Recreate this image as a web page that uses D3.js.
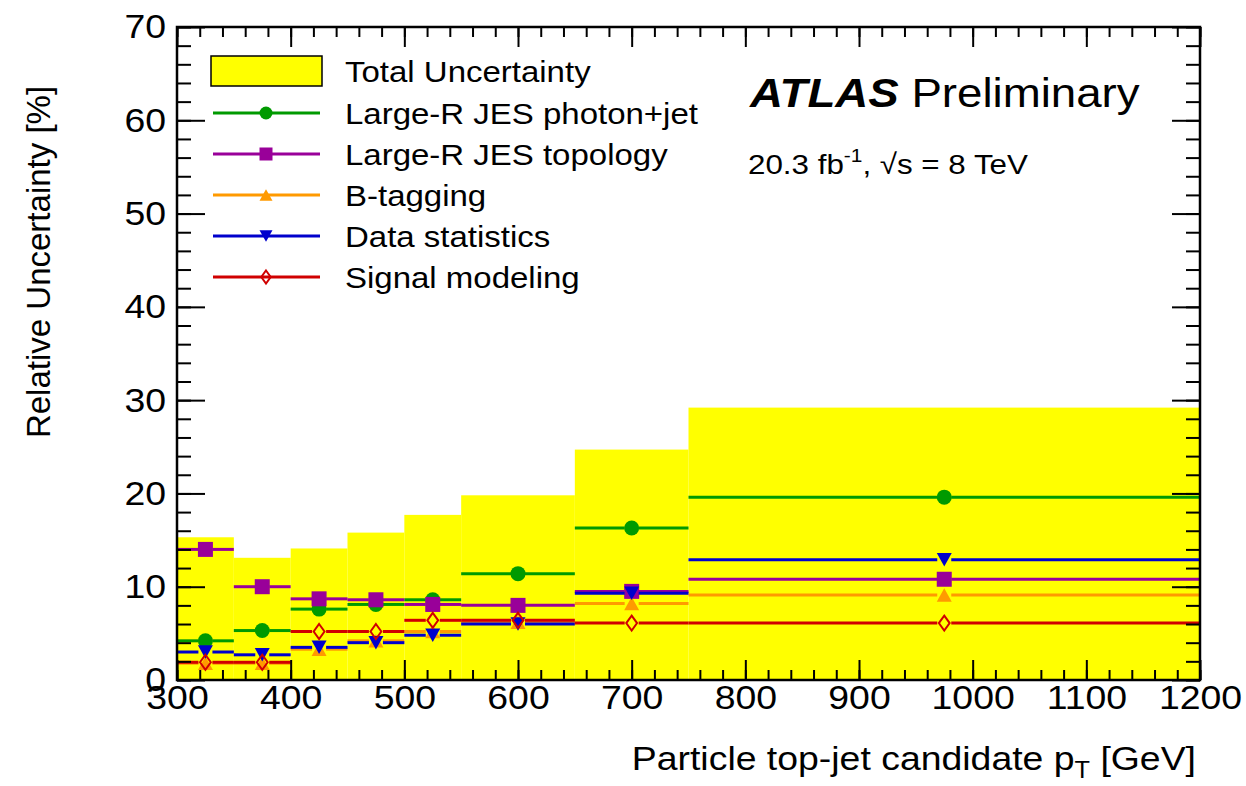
<!DOCTYPE html>
<html>
<head>
<meta charset="utf-8">
<script src="https://cdn.jsdelivr.net/npm/d3@7"></script>
<style>
  body { margin: 0; background: #fff; }
  svg { display: block; font-family: "Liberation Sans", Arial, Helvetica, sans-serif; }
</style>
</head>
<body>
<svg id="chart" width="1246" height="786"></svg>
<script>
// bin edges in particle top-jet candidate pT [GeV]
const binEdges = [300, 350, 400, 450, 500, 550, 650, 750, 1200];
const binCenters = [325, 375, 425, 475, 525, 600, 700, 975];

// relative uncertainties [%] per bin
const totalUnc   = [15.3, 13.1, 14.1, 15.8, 17.7, 19.8, 24.7, 29.2];
const jesPhoton  = [4.2, 5.3, 7.6, 8.1, 8.6, 11.4, 16.3, 19.6];
const jesTopo    = [14.0, 10.0, 8.7, 8.6, 8.1, 8.0, 9.5, 10.8];
const bTagging   = [1.8, 1.8, 3.3, 4.2, 5.2, 6.2, 8.2, 9.1];
const dataStat   = [3.0, 2.7, 3.5, 4.0, 4.8, 6.0, 9.3, 12.9];
const signalMod  = [1.9, 1.9, 5.2, 5.2, 6.4, 6.4, 6.1, 6.1];

const xTicks = [300, 400, 500, 600, 700, 800, 900, 1000, 1100, 1200];
const yTicks = [0, 10, 20, 30, 40, 50, 60, 70];

const series = [
    {name: "Large-R JES photon+jet", values: jesPhoton, color: "#009a00", marker: "circle"},
    {name: "Large-R JES topology",   values: jesTopo,   color: "#990099", marker: "square"},
    {name: "B-tagging",              values: bTagging,  color: "#ff9a00", marker: "triangle"},
    {name: "Data statistics",        values: dataStat,  color: "#0000cc", marker: "triangleDown"},
    {name: "Signal modeling",        values: signalMod, color: "#d00000", marker: "diamond"}
];

const L = 177, R = 1200, T = 27, B = 680;
const SX = 1.1; // the picture's text looks a bit wider than Liberation Sans
const x = d3.scaleLinear().domain([300, 1200]).range([L, R]);
const y = d3.scaleLinear().domain([0, 70]).range([B, T]);

const svg = d3.select("#chart");

// total uncertainty band
svg.append("g").selectAll("rect")
    .data(totalUnc)
    .join("rect")
    .attr("x", (d, i) => x(binEdges[i]))
    .attr("width", (d, i) => x(binEdges[i + 1]) - x(binEdges[i]))
    .attr("y", d => y(d))
    .attr("height", d => y(0) - y(d))
    .attr("fill", "#ffff00");

function drawMarker(g, type, cx, cy, color, s) {
    if (type == "circle") {
        g.append("circle").attr("cx", cx).attr("cy", cy).attr("r", s * 0.5).attr("fill", color);
    } else if (type == "square") {
        g.append("rect").attr("x", cx - s * 0.5).attr("y", cy - s * 0.5)
            .attr("width", s).attr("height", s).attr("fill", color);
    } else if (type == "triangle") {
        const h = s * 0.9;
        g.append("path").attr("d", `M${cx - s / 2},${cy + h / 2}L${cx + s / 2},${cy + h / 2}L${cx},${cy - h / 2}Z`)
            .attr("fill", color);
    } else if (type == "triangleDown") {
        const h = s * 0.9;
        g.append("path").attr("d", `M${cx - s / 2},${cy - h / 2}L${cx + s / 2},${cy - h / 2}L${cx},${cy + h / 2}Z`)
            .attr("fill", color);
    } else if (type == "diamond") {
        const w = s * 0.36, h = s * 0.5;
        g.append("path").attr("d", `M${cx},${cy - h}L${cx + w},${cy}L${cx},${cy + h}L${cx - w},${cy}Z`)
            .attr("fill", "none").attr("stroke", color).attr("stroke-width", 2);
    }
}

// systematic components with horizontal bin-width bars
const gap = 7;
series.forEach(s => {
    const g = svg.append("g");
    s.values.forEach((v, i) => {
        const cx = x(binCenters[i]), cy = y(v);
        g.append("line").attr("x1", x(binEdges[i])).attr("x2", cx - gap)
            .attr("y1", cy).attr("y2", cy).attr("stroke", s.color).attr("stroke-width", 3);
        g.append("line").attr("x1", cx + gap).attr("x2", x(binEdges[i + 1]))
            .attr("y1", cy).attr("y2", cy).attr("stroke", s.color).attr("stroke-width", 3);
        drawMarker(g, s.marker, cx, cy, s.color, 15);
    });
});

// axes, ROOT style ticks pointing inwards
function styleAxis(g) {
    g.select(".domain").remove();
    g.selectAll("line").attr("stroke", "#000").attr("stroke-width", 2);
    g.selectAll("text").attr("font-size", 34).attr("fill", "#000")
        .attr("font-family", '"Liberation Sans", Arial, sans-serif');
}
const minorX = d3.range(300, 1201, 20);
const minorY = d3.range(0, 71, 2);

svg.append("g").attr("transform", `translate(0,${B})`)
    .call(d3.axisBottom(x).tickValues(minorX).tickSize(-10).tickFormat("")).call(styleAxis);
svg.append("g").attr("transform", `translate(0,${B})`)
    .call(d3.axisBottom(x).tickValues(xTicks).tickSize(-20).tickPadding(5).tickFormat(d3.format("d")))
    .call(styleAxis)
    .call(g => g.selectAll("text").attr("transform", `scale(${SX},1)`));
svg.append("g").attr("transform", `translate(0,${T})`)
    .call(d3.axisTop(x).tickValues(minorX).tickSize(-10).tickFormat("")).call(styleAxis);
svg.append("g").attr("transform", `translate(0,${T})`)
    .call(d3.axisTop(x).tickValues(xTicks).tickSize(-20).tickFormat("")).call(styleAxis);

svg.append("g").attr("transform", `translate(${L},0)`)
    .call(d3.axisLeft(y).tickValues(minorY).tickSize(-14).tickFormat("")).call(styleAxis);
svg.append("g").attr("transform", `translate(${L},0)`)
    .call(d3.axisLeft(y).tickValues(yTicks).tickSize(-28).tickPadding(10))
    .call(styleAxis)
    .call(g => g.selectAll("text").attr("transform", `scale(${SX},1)`));
svg.append("g").attr("transform", `translate(${R},0)`)
    .call(d3.axisRight(y).tickValues(minorY).tickSize(-14).tickFormat("")).call(styleAxis);
svg.append("g").attr("transform", `translate(${R},0)`)
    .call(d3.axisRight(y).tickValues(yTicks).tickSize(-28).tickFormat("")).call(styleAxis);

// frame
svg.append("rect").attr("x", L).attr("y", T).attr("width", R - L).attr("height", B - T)
    .attr("fill", "none").attr("stroke", "#000").attr("stroke-width", 2.5);

// horizontal text, slightly stretched
function label(px, py, size) {
    return svg.append("text").attr("transform", `translate(${px},${py}) scale(${SX},1)`)
        .attr("font-size", size);
}

// axis titles
svg.append("text").attr("transform", "translate(50,262) rotate(-90)")
    .attr("text-anchor", "middle").attr("font-size", 33).text("Relative Uncertainty [%]");

const xt = label(1196, 770, 34).attr("text-anchor", "end");
xt.append("tspan").text("Particle top-jet candidate p");
xt.append("tspan").attr("font-size", 23).attr("dy", 8).text("T");
xt.append("tspan").attr("dy", -8).text("  [GeV]");

// legend
const legY = [71, 113, 154, 195, 236, 277];
const leg = svg.append("g");
leg.append("rect").attr("x", 211).attr("y", legY[0] - 15).attr("width", 111).attr("height", 30)
    .attr("fill", "#ffff00").attr("stroke", "#000").attr("stroke-width", 1.5);
label(345, legY[0], 30).attr("dy", "0.36em").text("Total Uncertainty");
series.forEach((s, i) => {
    const cy = legY[i + 1];
    leg.append("line").attr("x1", 213).attr("x2", 320).attr("y1", cy).attr("y2", cy)
        .attr("stroke", s.color).attr("stroke-width", 3);
    drawMarker(leg, s.marker, 266, cy, s.color, 13);
    label(345, cy, 30).attr("dy", "0.36em").text(s.name);
});

// ATLAS label
const atl = label(750, 107, 41.5);
atl.append("tspan").attr("font-weight", "bold").attr("font-style", "italic").text("ATLAS");
atl.append("tspan").text(" Preliminary");

const lumi = label(748, 174, 28.5);
lumi.append("tspan").text("20.3 fb");
lumi.append("tspan").attr("font-size", 19).attr("dy", -12).text("-1");
lumi.append("tspan").attr("dy", 12).text(", \u221As = 8 TeV");
</script>
</body>
</html>
